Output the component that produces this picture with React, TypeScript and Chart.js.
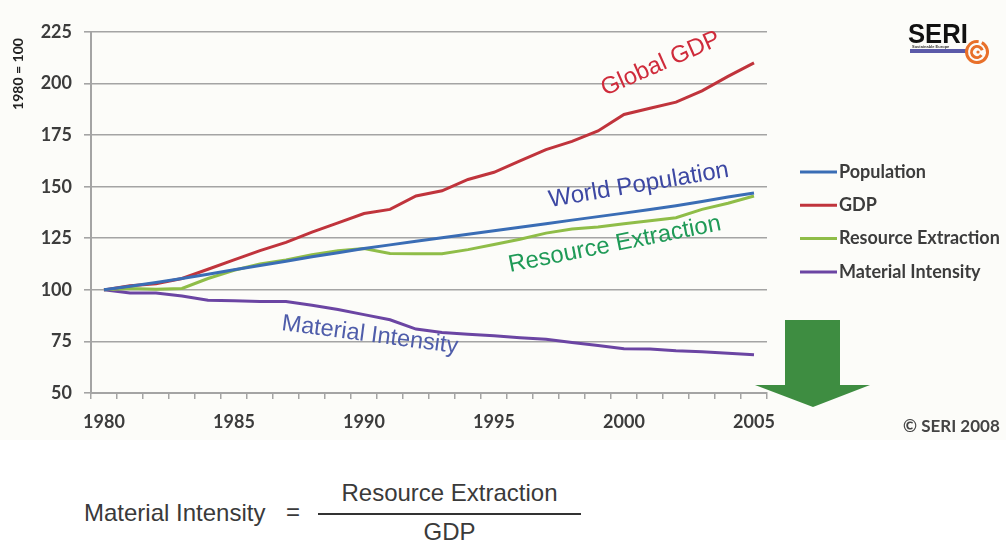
import React, { useEffect, useRef } from 'react';
import { Chart, registerables } from 'chart.js';

Chart.register(...registerables);

// Index values, 1980 = 100
const YEARS = [
  '1980', '1981', '1982', '1983', '1984', '1985', '1986', '1987', '1988', '1989',
  '1990', '1991', '1992', '1993', '1994', '1995', '1996', '1997', '1998', '1999',
  '2000', '2001', '2002', '2003', '2004', '2005',
];

const POPULATION = [
  100, 101.8, 103.6, 105.5, 107.6, 109.7, 111.8, 113.9, 116, 118,
  120, 121.8, 123.6, 125.3, 127, 128.7, 130.4, 132.1, 133.8, 135.5,
  137.2, 139, 140.8, 142.8, 145, 147,
];

const GDP = [
  100, 102, 103, 105.5, 110, 114.5, 119, 123, 128, 132.5,
  137, 139, 145.5, 148, 153.5, 157, 162.5, 168, 172, 177,
  185, 188, 191, 196.5, 203.5, 210,
];

const RESOURCE_EXTRACTION = [
  100, 100.7, 100.3, 100.7, 105.5, 109.5, 112.5, 114.5, 117, 119,
  120, 117.6, 117.5, 117.5, 119.5, 122, 124.5, 127.5, 129.5, 130.5,
  132, 133.5, 135, 139, 142, 145.5,
];

const MATERIAL_INTENSITY = [
  100, 98.5, 98.5, 97, 95, 94.7, 94.3, 94.3, 92.5, 90.5,
  88, 85.5, 81, 79.3, 78.5, 77.8, 76.8, 76, 74.5, 73,
  71.5, 71.3, 70.5, 70, 69.3, 68.5,
];

const SERIES_NAMES = ['Population', 'GDP', 'Resource Extraction', 'Material Intensity'];
const SERIES_COLORS = ['#3a6db5', '#c0343c', '#8fbd48', '#6b45a3'];

const Y_MIN = 50;
const Y_MAX = 225;
const Y_STEP = 25;
const LABEL_EVERY = 5;

const AXIS_TITLE = '1980 = 100';
const COPYRIGHT = '\u00A9 SERI 2008';

// Rotated captions placed next to each curve
const CAPTIONS = [
  { text: 'Global GDP', x: 605, y: 96, angle: -24, size: 24, color: '#cf2b3b' },
  { text: 'World Population', x: 550, y: 207, angle: -9.6, size: 24, color: '#3d48a3' },
  { text: 'Resource Extraction', x: 510, y: 272, angle: -11.2, size: 24, color: '#1f9a57' },
  { text: 'Material Intensity', x: 281, y: 330, angle: 7.5, size: 23.5, color: '#4f5daa' },
];

const GRID_COLOR = '#a4a4a4';
const TEXT_COLOR = '#3c3c3c';
const SANS = '"Liberation Sans", Arial, sans-serif';

const decorations = {
  id: 'decorations',
  beforeDraw(chart: any) {
    const ctx = chart.ctx;
    ctx.save();
    ctx.fillStyle = '#fcfcf9';
    ctx.fillRect(0, 0, chart.width, chart.height);
    ctx.restore();
  },
  afterDraw(chart: any) {
    const ctx: CanvasRenderingContext2D = chart.ctx;
    ctx.save();

    // y-axis title
    ctx.save();
    ctx.translate(18, 74);
    ctx.rotate(-Math.PI / 2);
    ctx.font = 'bold 14px Lato';
    ctx.fillStyle = '#222';
    ctx.textAlign = 'center';
    ctx.textBaseline = 'middle';
    ctx.fillText(AXIS_TITLE, 0, 0);
    ctx.restore();

    // curve captions
    CAPTIONS.forEach((c) => {
      ctx.save();
      ctx.translate(c.x, c.y);
      ctx.rotate((c.angle * Math.PI) / 180);
      ctx.font = `${c.size}px ${SANS}`;
      ctx.fillStyle = c.color;
      ctx.textAlign = 'left';
      ctx.textBaseline = 'alphabetic';
      ctx.fillText(c.text, 0, 0);
      ctx.restore();
    });

    // legend
    chart.data.datasets.forEach((ds: any, i: number) => {
      const y = 172 + i * 33.3;
      ctx.strokeStyle = ds.borderColor;
      ctx.lineWidth = 3;
      ctx.beginPath();
      ctx.moveTo(800, y);
      ctx.lineTo(837, y);
      ctx.stroke();
      ctx.font = 'bold 18px Lato';
      ctx.fillStyle = TEXT_COLOR;
      ctx.textAlign = 'left';
      ctx.textBaseline = 'middle';
      ctx.fillText(ds.label, 839, y);
    });

    // downward arrow
    ctx.fillStyle = '#3e8d41';
    ctx.beginPath();
    ctx.moveTo(785, 320);
    ctx.lineTo(840, 320);
    ctx.lineTo(840, 385);
    ctx.lineTo(870, 385);
    ctx.lineTo(813, 407);
    ctx.lineTo(755, 385);
    ctx.lineTo(785, 385);
    ctx.closePath();
    ctx.fill();

    // copyright
    ctx.font = 'bold 17px Lato';
    ctx.fillStyle = '#444';
    ctx.textAlign = 'left';
    ctx.textBaseline = 'middle';
    ctx.fillText(COPYRIGHT, 903, 427);

    // SERI logo
    ctx.save();
    ctx.translate(908, 43);
    ctx.scale(0.95, 1.05);
    ctx.font = `bold 27px ${SANS}`;
    ctx.fillStyle = '#111';
    ctx.textBaseline = 'alphabetic';
    ctx.fillText('SERI', 0, 0);
    ctx.restore();
    ctx.font = `bold 4px ${SANS}`;
    ctx.fillStyle = '#333';
    ctx.fillText('Sustainable Europe', 912, 47);
    ctx.fillStyle = '#5b5aa9';
    ctx.fillRect(910, 49, 56, 4);
    ctx.strokeStyle = '#e8702a';
    ctx.lineWidth = 3;
    ctx.beginPath();
    ctx.arc(977, 52, 10.5, -0.35 * Math.PI, 1.55 * Math.PI);
    ctx.stroke();
    ctx.beginPath();
    ctx.arc(977, 52, 5.5, 0.2 * Math.PI, 1.9 * Math.PI);
    ctx.stroke();
    ctx.fillStyle = '#e8702a';
    ctx.beginPath();
    ctx.arc(978, 52, 1.6, 0, 2 * Math.PI);
    ctx.fill();

    ctx.restore();
  },
};

function IndexChart() {
  const canvasRef = useRef<HTMLCanvasElement>(null);

  useEffect(() => {
    if (!canvasRef.current) return;
    const series = [POPULATION, GDP, RESOURCE_EXTRACTION, MATERIAL_INTENSITY];
    const chart = new Chart(canvasRef.current, {
      type: 'line',
      data: {
        labels: YEARS,
        datasets: series.map((values, i) => ({
          label: SERIES_NAMES[i],
          data: values,
          borderColor: SERIES_COLORS[i],
          backgroundColor: SERIES_COLORS[i],
          borderWidth: 3,
          pointRadius: 0,
          tension: 0,
          fill: false,
        })),
      },
      options: {
        responsive: false,
        animation: false,
        layout: { padding: { left: 0, right: 239, top: 32, bottom: 0 } },
        plugins: {
          legend: { display: false },
          tooltip: { enabled: false },
        },
        scales: {
          x: {
            type: 'category',
            offset: true,
            afterFit: (scale: any) => {
              scale.height = 47;
            },
            grid: {
              offset: true,
              drawOnChartArea: false,
              drawTicks: true,
              tickLength: 6,
              color: GRID_COLOR,
              lineWidth: 1.5,
            },
            border: { color: GRID_COLOR, width: 2 },
            ticks: {
              autoSkip: false,
              maxRotation: 0,
              padding: 12,
              color: TEXT_COLOR,
              font: { family: 'Lato', size: 18, weight: 'bold' },
              callback: (_v: any, idx: number) => (idx % LABEL_EVERY === 0 ? YEARS[idx] : ''),
            },
          },
          y: {
            min: Y_MIN,
            max: Y_MAX,
            afterFit: (scale: any) => {
              scale.width = 91;
            },
            grid: {
              color: GRID_COLOR,
              lineWidth: 1.6,
              tickLength: 7,
            },
            border: { color: GRID_COLOR, width: 2 },
            ticks: {
              stepSize: Y_STEP,
              padding: 12,
              color: TEXT_COLOR,
              font: { family: 'Lato', size: 18, weight: 'bold' },
            },
          },
        },
      },
      plugins: [decorations],
    } as any);
    return () => chart.destroy();
  }, []);

  return <canvas ref={canvasRef} width={1006} height={440} style={{ display: 'block' }} />;
}

const formulaText: React.CSSProperties = {
  position: 'absolute',
  fontFamily: SANS,
  fontSize: 24,
  lineHeight: '26px',
  color: '#3a3a3a',
  whiteSpace: 'nowrap',
};

export default function App() {
  return (
    <div style={{ position: 'absolute', left: 0, top: 0, width: 1006, height: 543, background: '#fff', overflow: 'hidden' }}>
      <IndexChart />
      <div style={{ ...formulaText, left: 84, top: 500 }}>Material Intensity</div>
      <div style={{ ...formulaText, left: 286, top: 499 }}>=</div>
      <div style={{ ...formulaText, left: 318, width: 263, top: 480, textAlign: 'center' }}>Resource Extraction</div>
      <div style={{ position: 'absolute', left: 318, width: 263, top: 513, height: 2, background: '#333' }} />
      <div style={{ ...formulaText, left: 318, width: 263, top: 519, textAlign: 'center' }}>GDP</div>
    </div>
  );
}
